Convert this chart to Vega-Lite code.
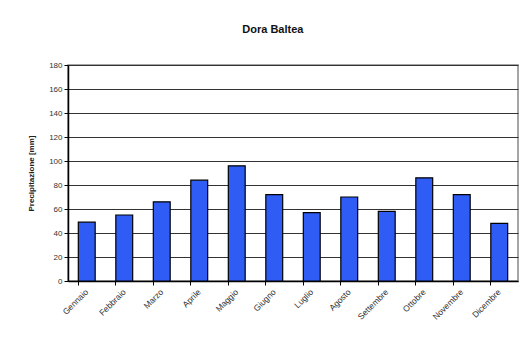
{
  "$schema": "https://vega.github.io/schema/vega-lite/v6.json",
  "autosize": {"type": "none"},
  "width": 450,
  "height": 216,
  "padding": {"left": 68, "top": 65, "right": 6, "bottom": 64},
  "background": "white",
  "title": {
    "text": "Dora Baltea",
    "font": "Liberation Sans",
    "fontSize": 11,
    "fontWeight": "bold",
    "color": "#111",
    "anchor": "middle",
    "frame": "bounds",
    "offset": 26
  },
  "data": {
    "values": [
      {"mese": "Gennaio", "mm": 49},
      {"mese": "Febbraio", "mm": 55},
      {"mese": "Marzo", "mm": 66},
      {"mese": "Aprile", "mm": 84},
      {"mese": "Maggio", "mm": 96},
      {"mese": "Giugno", "mm": 72},
      {"mese": "Luglio", "mm": 57},
      {"mese": "Agosto", "mm": 70},
      {"mese": "Settembre", "mm": 58},
      {"mese": "Ottobre", "mm": 86},
      {"mese": "Novembre", "mm": 72},
      {"mese": "Dicembre", "mm": 48}
    ]
  },
  "mark": {"type": "bar", "color": "#2f5cf5", "stroke": "#000", "strokeWidth": 1.2},
  "encoding": {
    "x": {
      "field": "mese",
      "type": "nominal",
      "sort": null,
      "title": null,
      "scale": {"paddingInner": 0.55, "paddingOuter": 0.275},
      "axis": {
        "labelAngle": -45,
        "labelAlign": "right",
        "labelBaseline": "middle",
        "labelFont": "Liberation Sans",
        "labelFontSize": 8.5,
        "labelColor": "#333",
        "labelPadding": 5,
        "bandPosition": 0,
        "tickColor": "#000",
        "tickSize": 4,
        "domainColor": "#000",
        "domainWidth": 1.5,
        "grid": false
      }
    },
    "y": {
      "field": "mm",
      "type": "quantitative",
      "title": "Precipitazione [mm]",
      "scale": {"domain": [0, 180]},
      "axis": {
        "values": [0, 20, 40, 60, 80, 100, 120, 140, 160, 180],
        "labelFont": "Liberation Sans",
        "labelFontSize": 8,
        "labelColor": "#333",
        "labelPadding": 2,
        "tickColor": "#000",
        "tickSize": 4,
        "domainColor": "#000",
        "domainWidth": 1.5,
        "gridColor": "#333",
        "gridWidth": 1.2,
        "gridOpacity": 1,
        "titleFont": "Liberation Sans",
        "titleFontSize": 8,
        "titleFontWeight": "bold",
        "titleColor": "#222",
        "titlePadding": 13
      }
    }
  },
  "config": {
    "view": {"stroke": "#888", "strokeWidth": 1.5}
  }
}
